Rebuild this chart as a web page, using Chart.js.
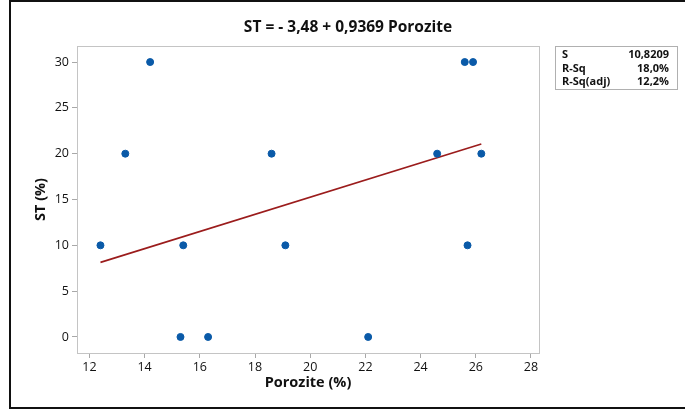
<!DOCTYPE html>
<html lang="tr">
<head>
<meta charset="UTF-8">
<script src="https://cdn.jsdelivr.net/npm/chart.js"></script>
<title>ST vs Porozite</title>
<style>
  html, body { margin: 0; padding: 0; background: #fff; }
  canvas { display: block; }
</style>
</head>
<body>
<canvas id="grafik" width="685" height="412"></canvas>
<script>
// veri
const porozite = [12.4, 13.3, 14.2, 15.3, 15.4, 16.3, 18.6, 19.1, 22.1, 24.6, 25.6, 25.9, 25.7, 26.2];
const st = [10, 20, 30, 0, 10, 0, 20, 10, 0, 20, 30, 30, 10, 20];
const xTicks = [12, 14, 16, 18, 20, 22, 24, 26, 28];
const yTicks = [0, 5, 10, 15, 20, 25, 30];
const sabit = -3.48;
const egim = 0.9369;
const istatistikEtiket = ['S', 'R-Sq', 'R-Sq(adj)'];
const istatistikDeger = ['10,8209', '18,0%', '12,2%'];
const baslik = 'ST = - 3,48 + 0,9369 Porozite';

const xMin = Math.min(...porozite), xMax = Math.max(...porozite);
const fitLine = [xMin, xMax].map(x => ({ x: x, y: sabit + egim * x }));
const noktalar = porozite.map((x, i) => ({ x: x, y: st[i] }));

const FONT = '"Open Sans", "Noto Sans", sans-serif';

const cerceve = {
  id: 'cerceve',
  afterDraw(chart) {
    const ctx = chart.ctx;
    const a = chart.chartArea;
    ctx.save();
    // plot kutusu
    ctx.strokeStyle = '#c4c4c4';
    ctx.lineWidth = 1;
    ctx.strokeRect(a.left + 0.5, a.top + 0.5, a.right - a.left, a.bottom - a.top);
    // dış çerçeve
    ctx.strokeStyle = '#111';
    ctx.lineWidth = 2;
    ctx.strokeRect(10, 1, 676, 407);
    // başlık
    ctx.fillStyle = '#111';
    ctx.font = 'bold 15.5px ' + FONT;
    ctx.textAlign = 'center';
    ctx.textBaseline = 'middle';
    ctx.fillText(baslik, 348, 28);
    // istatistik kutusu
    ctx.strokeStyle = '#b0b0b0';
    ctx.lineWidth = 1;
    ctx.strokeRect(555.5, 46.5, 122, 43);
    ctx.font = 'bold 11px ' + FONT;
    ctx.textBaseline = 'middle';
    istatistikEtiket.forEach((t, i) => {
      ctx.textAlign = 'left';
      ctx.fillText(t, 562, 55 + i * 13.6);
      ctx.textAlign = 'right';
      ctx.fillText(istatistikDeger[i], 669, 55 + i * 13.6);
    });
    ctx.restore();
  }
};

new Chart(document.getElementById('grafik'), {
  type: 'scatter',
  data: {
    datasets: [
      {
        label: 'Regresyon',
        type: 'line',
        data: fitLine,
        borderColor: '#9b1c1c',
        borderWidth: 1.6,
        pointRadius: 0,
        fill: false,
        order: 2
      },
      {
        label: 'ST',
        data: noktalar,
        backgroundColor: '#0a5aa8',
        borderColor: '#0a5aa8',
        pointRadius: 3.5,
        pointHoverRadius: 3.5,
        order: 1
      }
    ]
  },
  options: {
    responsive: false,
    animation: false,
    layout: { padding: { left: 0, right: 146, top: 46, bottom: 0 } },
    plugins: {
      legend: { display: false },
      title: { display: false },
      tooltip: { enabled: false }
    },
    scales: {
      x: {
        type: 'linear',
        min: 11.55,
        max: 28.29,
        afterBuildTicks: s => { s.ticks = xTicks.map(v => ({ value: v })); },
        afterFit: s => { s.height = 59; },
        grid: { drawOnChartArea: false, drawTicks: true, tickLength: 5, color: '#a8a8a8' },
        border: { display: true, color: '#a8a8a8' },
        ticks: { color: '#111', font: { family: FONT, size: 12.5 }, padding: 2, maxRotation: 0 },
        title: { display: true, text: 'Porozite (%)', color: '#111', font: { family: FONT, size: 14.5, weight: 'bold' }, padding: { top: 0, bottom: 20 } }
      },
      y: {
        type: 'linear',
        min: -1.75,
        max: 31.75,
        afterBuildTicks: s => { s.ticks = yTicks.map(v => ({ value: v })); },
        afterFit: s => { s.width = 77; },
        grid: { drawOnChartArea: false, drawTicks: true, tickLength: 5, color: '#a8a8a8' },
        border: { display: true, color: '#a8a8a8' },
        ticks: { color: '#111', font: { family: FONT, size: 12.5 }, padding: 3 },
        title: { display: true, text: 'ST (%)', color: '#111', font: { family: FONT, size: 14.5, weight: 'bold' }, padding: { top: 32, bottom: 0 } }
      }
    }
  },
  plugins: [cerceve]
});
</script>
</body>
</html>
